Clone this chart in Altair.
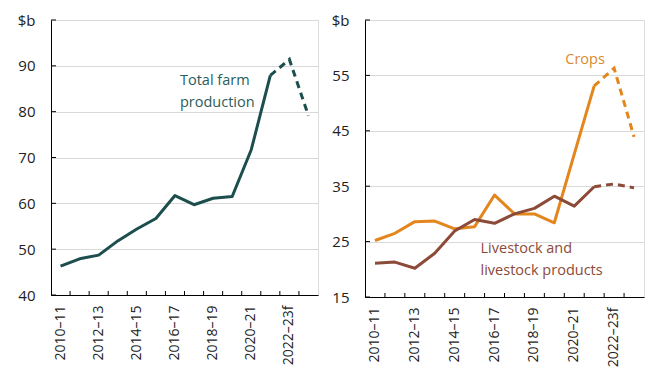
import altair as alt
import pandas as pd

years = ["2010–11", "2011–12", "2012–13", "2013–14", "2014–15", "2015–16", "2016–17",
         "2017–18", "2018–19", "2019–20", "2020–21", "2021–22", "2022–23f", "2023–24f"]
total = [46.3, 47.9, 48.7, 51.8, 54.4, 56.7, 61.7, 59.7, 61.1, 61.5, 71.7, 87.9, 91.4, 79.1]
crops = [25.2, 26.5, 28.6, 28.7, 27.3, 27.7, 33.4, 30.0, 30.0, 28.4, 40.8, 53.1, 56.3, 43.9]
livestock = [21.1, 21.3, 20.2, 22.9, 26.9, 29.0, 28.3, 30.0, 31.0, 33.2, 31.4, 34.9, 35.4, 34.7]
forecast_start = 11  # last actual index; dashed from here

GREEN = "#1b4e4c"
ORANGE = "#e2861d"
BROWN = "#8c4a38"
FONT = "Open Sans"


def long_df(values, series):
    rows = []
    for i, (yr, v) in enumerate(zip(years, values)):
        if i <= forecast_start:
            rows.append({"year": yr, "value": v, "series": series, "seg": "actual"})
        if i >= forecast_start:
            rows.append({"year": yr, "value": v, "series": series, "seg": "forecast"})
    return pd.DataFrame(rows)


label_expr = "test(/^20(10|12|14|16|18|20|22)/, datum.value) ? datum.label : ''"

x_enc = alt.X("year:N", sort=years, title=None,
              scale=alt.Scale(paddingInner=0, paddingOuter=0),
              axis=alt.Axis(labelAngle=-90, ticks=False, labelExpr=label_expr,
                            domainColor="black", labelFontSize=14, labelFont=FONT,
                            labelColor="#222", labelPadding=10, grid=False))


def y_enc(lo, hi, step):
    return alt.Y("value:Q", title=None,
                 scale=alt.Scale(domain=[lo, hi], nice=False, zero=False),
                 axis=alt.Axis(values=list(range(lo, hi + 1, step)),
                               labelExpr=f"datum.value == {hi} ? '$b' : datum.label",
                               domainColor="black", ticks=False, labelPadding=16,
                               labelFontSize=15, labelFont=FONT, labelColor="#222",
                               gridColor="#d9d9d9", gridWidth=1))


def lines(df, color, lo, hi, step):
    base = alt.Chart(df)
    solid = base.transform_filter("datum.seg == 'actual'").mark_line(
        color=color, strokeWidth=3, strokeJoin="round").encode(
        x=x_enc, y=y_enc(lo, hi, step), detail="series:N")
    dashed = base.transform_filter("datum.seg == 'forecast'").mark_line(
        color=color, strokeWidth=3, strokeDash=[7, 5]).encode(
        x=x_enc, y=y_enc(lo, hi, step), detail="series:N")
    return solid + dashed


def inward_ticks(lo, hi, step, h):
    xd = pd.DataFrame({"year": years[1:]})
    xt = alt.Chart(xd).mark_rule(color="black", strokeWidth=1).encode(
        x=alt.X("year:N", sort=years, bandPosition=0),
        y=alt.value(h - 4), y2=alt.value(h))
    yd = pd.DataFrame({"value": list(range(lo, hi + 1, step))})
    yt = alt.Chart(yd).mark_rule(color="black", strokeWidth=1).encode(
        y="value:Q", x=alt.value(0), x2=alt.value(5))
    return xt + yt


def label(text, year, value, color, dx):
    d = pd.DataFrame({"year": [year], "value": [value], "t": [text]})
    return alt.Chart(d).mark_text(align="left", baseline="middle", dx=dx, fontSize=14.5,
                                  font=FONT, color=color, lineBreak="\n",
                                  lineHeight=22).encode(
        x=alt.X("year:N", sort=years), y="value:Q", text="t:N")


LH, RH = 275, 277
left = (lines(long_df(total, "Total"), GREEN, 40, 100, 10)
        + inward_ticks(40, 100, 10, LH)
        + label("Total farm\nproduction", "2016–17", 86.7, "#2a5c5a", 5)
        ).properties(width=267, height=LH)

right = (lines(long_df(crops, "Crops"), ORANGE, 15, 65, 10)
         + lines(long_df(livestock, "Livestock"), BROWN, 15, 65, 10)
         + inward_ticks(15, 65, 10, RH)
         + label("Crops", "2020–21", 57.8, "#d98a2e", -9)
         + label("Livestock and\nlivestock products", "2016–17", 23.6, BROWN, -14)
         ).properties(width=279, height=RH)

chart = alt.hconcat(left, right, spacing=11).properties(
    padding={"left": 8, "top": 4, "right": 0, "bottom": 0}
).configure_view(stroke=None).configure(background="white")

chart.save("out.html", embed_options={"renderer": "svg", "actions": False})
